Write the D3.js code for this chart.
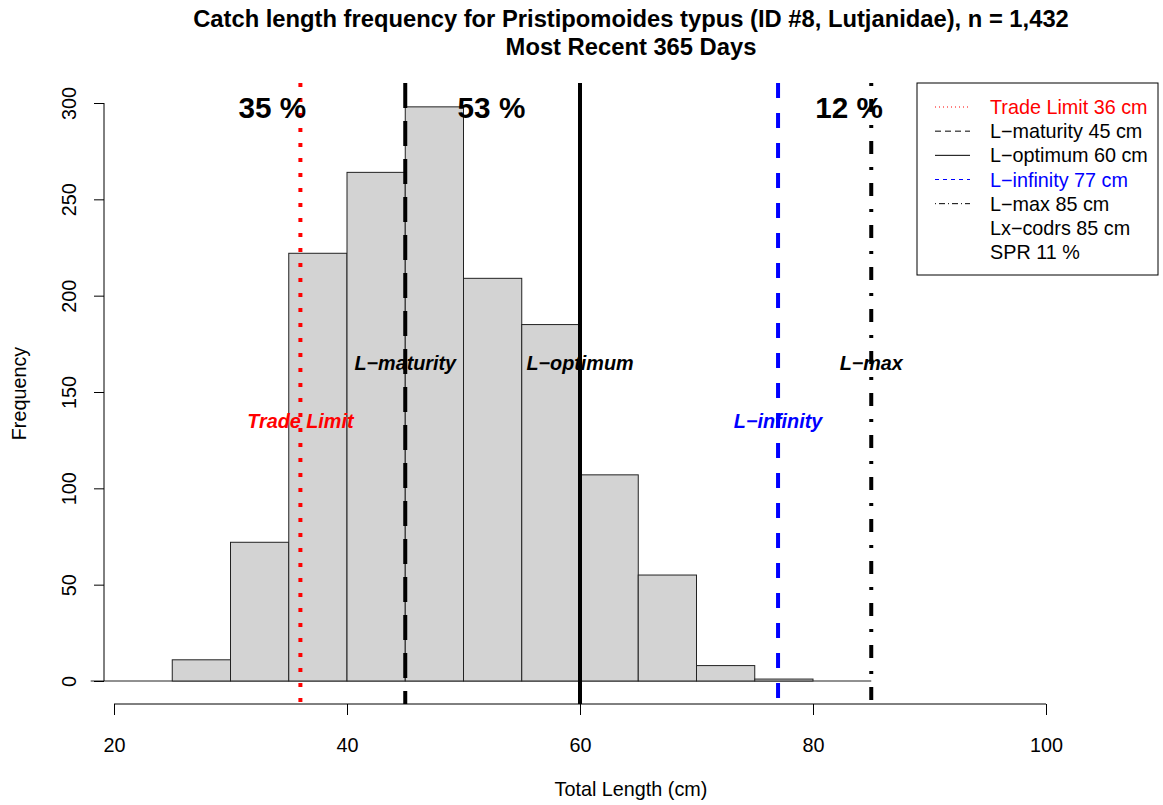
<!DOCTYPE html>
<html>
<head>
<meta charset="utf-8">
<script src="https://cdn.jsdelivr.net/npm/d3@7"></script>
<style>
  body { margin: 0; background: #fff; }
  text { font-family: "Liberation Sans", Arial, Helvetica, sans-serif; }
</style>
</head>
<body>
<div class="chart"></div>
<script>
// histogram bins (5 cm wide) and counts
const binEdges = [25, 30, 35, 40, 45, 50, 55, 60, 65, 70, 75, 80];
const counts = [11, 72, 222, 264, 298, 209, 185, 107, 55, 8, 1];

// reference lengths
const refNames = ["Trade Limit", "L\u2212maturity", "L\u2212optimum", "L\u2212infinity", "L\u2212max"];
const refValues = [36, 45, 60, 77, 85];
const refColors = ["red", "black", "black", "blue", "black"];
const refDash = ["4,11", "25,13", null, "15,15", "3,13,13,13"];
const refLabelY = [135, 165, 165, 135, 165];

// legend
const legendTexts = ["Trade Limit 36 cm", "L\u2212maturity 45 cm", "L\u2212optimum 60 cm",
  "L\u2212infinity 77 cm", "L\u2212max 85 cm", "Lx\u2212codrs 85 cm", "SPR 11 %"];
const legendColors = ["red", "black", "black", "blue", "black", "black", "black"];
const legendDash = ["1,3", "6,4", null, "4,4", "1,3,6,3", "none", "none"];

// percent of catch in each zone
const pctLabels = ["35 %", "53 %", "12 %"];
const pctX = [33.6, 52.4, 83.1];
const pctY = 298;

const xTicks = [20, 40, 60, 80, 100];
const yTicks = [0, 50, 100, 150, 200, 250, 300];

const W = 1163, H = 805;
const plot = {left: 104, right: 1158, top: 83, bottom: 704};
const base = 19.8; // cex = 1

const svg = d3.select(".chart").append("svg")
  .attr("width", W).attr("height", H);

const x = d3.scaleLinear().domain([20, 100]).range([114, 1046]);
const y = d3.scaleLinear().domain([0, 300]).range([681, 103]);

// baseline from zero-count bins
svg.append("line")
  .attr("x1", x(18)).attr("x2", x(85))
  .attr("y1", y(0)).attr("y2", y(0))
  .attr("stroke", "#222").attr("stroke-width", 1);

// bars
svg.selectAll("rect.bar")
  .data(counts)
  .enter()
  .append("rect")
    .attr("class", "bar")
    .attr("x", (d, i) => x(binEdges[i]))
    .attr("y", d => y(d))
    .attr("width", (d, i) => x(binEdges[i + 1]) - x(binEdges[i]))
    .attr("height", d => y(0) - y(d))
    .attr("fill", "#d3d3d3")
    .attr("stroke", "#222")
    .attr("stroke-width", 1);

// reference lines
svg.selectAll("line.ref")
  .data(refValues)
  .enter()
  .append("line")
    .attr("class", "ref")
    .attr("x1", d => x(d)).attr("x2", d => x(d))
    .attr("y1", plot.top).attr("y2", plot.bottom)
    .attr("stroke", (d, i) => refColors[i])
    .attr("stroke-width", 4)
    .attr("stroke-dasharray", (d, i) => refDash[i]);

// reference labels
svg.selectAll("text.reflab")
  .data(refNames)
  .enter()
  .append("text")
    .attr("class", "reflab")
    .attr("x", (d, i) => x(refValues[i]))
    .attr("y", (d, i) => y(refLabelY[i]) + 7)
    .attr("text-anchor", "middle")
    .attr("font-size", base)
    .attr("font-weight", "bold")
    .attr("font-style", "italic")
    .attr("fill", (d, i) => refColors[i])
    .text(d => d);

// percent labels
svg.selectAll("text.pct")
  .data(pctLabels)
  .enter()
  .append("text")
    .attr("class", "pct")
    .attr("x", (d, i) => x(pctX[i]))
    .attr("y", y(pctY) + 11)
    .attr("text-anchor", "middle")
    .attr("font-size", base * 1.5)
    .attr("font-weight", "bold")
    .text(d => d);

// axes
const yAxis = svg.append("g")
  .attr("transform", `translate(${plot.left},0)`)
  .call(d3.axisLeft(y).tickValues(yTicks).tickSize(10).tickSizeOuter(0));
yAxis.select(".domain").remove();
yAxis.append("line")
  .attr("y1", y(0)).attr("y2", y(300))
  .attr("stroke", "black");
yAxis.selectAll(".tick line").attr("stroke", "black");
yAxis.selectAll(".tick text")
  .attr("transform", "rotate(-90)")
  .attr("x", 0).attr("y", -28).attr("dy", null)
  .attr("text-anchor", "middle")
  .attr("font-size", base)
  .attr("font-family", null)
  .attr("fill", "black");

const xAxis = svg.append("g")
  .attr("transform", `translate(0,${plot.bottom})`)
  .call(d3.axisBottom(x).tickValues(xTicks).tickSize(11).tickSizeOuter(0));
xAxis.select(".domain").remove();
xAxis.append("line")
  .attr("x1", x(20)).attr("x2", x(100))
  .attr("stroke", "black");
xAxis.selectAll(".tick line").attr("stroke", "black");
xAxis.selectAll(".tick text")
  .attr("y", 48).attr("dy", null)
  .attr("font-size", base)
  .attr("font-family", null)
  .attr("fill", "black");

// axis titles
svg.append("text")
  .attr("x", (plot.left + plot.right) / 2)
  .attr("y", 796)
  .attr("text-anchor", "middle")
  .attr("font-size", base)
  .text("Total Length (cm)");

svg.append("text")
  .attr("transform", `translate(26,${(plot.top + plot.bottom) / 2}) rotate(-90)`)
  .attr("text-anchor", "middle")
  .attr("font-size", base)
  .text("Frequency");

// title
svg.append("text")
  .attr("x", (plot.left + plot.right) / 2)
  .attr("y", 27)
  .attr("text-anchor", "middle")
  .attr("font-size", base * 1.2)
  .attr("font-weight", "bold")
  .text("Catch length frequency for Pristipomoides typus (ID #8, Lutjanidae), n = 1,432");
svg.append("text")
  .attr("x", (plot.left + plot.right) / 2)
  .attr("y", 55)
  .attr("text-anchor", "middle")
  .attr("font-size", base * 1.2)
  .attr("font-weight", "bold")
  .text("Most Recent 365 Days");

// legend
const leg = svg.append("g");
leg.append("rect")
  .attr("x", 917).attr("y", 83)
  .attr("width", 241).attr("height", 192)
  .attr("fill", "white").attr("stroke", "black");
const rowY = d3.scaleLinear().domain([0, 6]).range([107, 252]);
const rows = leg.selectAll("g.row")
  .data(legendTexts)
  .enter()
  .append("g")
    .attr("class", "row")
    .attr("transform", (d, i) => `translate(0,${rowY(i)})`);
rows.filter((d, i) => legendDash[i] !== "none")
  .append("line")
    .attr("x1", 935).attr("x2", 970)
    .attr("stroke", d => legendColors[legendTexts.indexOf(d)])
    .attr("stroke-width", 1)
    .attr("stroke-dasharray", d => legendDash[legendTexts.indexOf(d)]);
rows.append("text")
  .attr("x", 990).attr("y", 7)
  .attr("font-size", base)
  .attr("fill", (d, i) => legendColors[i])
  .text(d => d);
</script>
</body>
</html>
